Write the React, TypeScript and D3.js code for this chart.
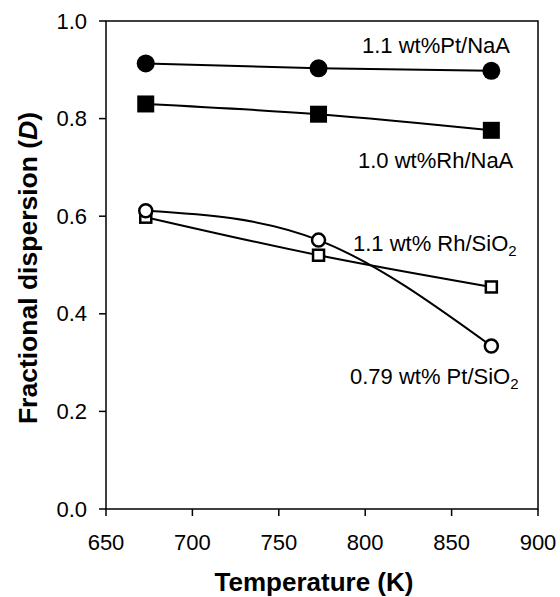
import React from "react";
import * as d3 from "d3";

const temps = [673, 773, 873];
const ptNaA = [0.913, 0.903, 0.898];
const rhNaA = [0.830, 0.809, 0.776];
const ptSiO2 = [0.611, 0.551, 0.334];
const rhSiO2 = [0.598, 0.520, 0.455];
const xTicks = [650, 700, 750, 800, 850, 900];
const yTicks = [0.0, 0.2, 0.4, 0.6, 0.8, 1.0];

const W = 560, H = 597;
const L = 106, R = 538, T = 21, B = 509;

export default function App() {
  const x = d3.scaleLinear().domain([650, 900]).range([L, R]);
  const y = d3.scaleLinear().domain([0, 1]).range([B, T]);
  const line = d3
    .line<[number, number]>()
    .x((d) => x(d[0]))
    .y((d) => y(d[1]))
    .curve(d3.curveNatural);
  const pts = (vals: number[]) => temps.map((t, i) => [t, vals[i]] as [number, number]);
  const font = "'Liberation Sans', Arial, Helvetica, sans-serif";
  const sw = 2;

  return (
    <svg width={W} height={H} style={{ position: "absolute", left: 0, top: 0, background: "#fff" }} fontFamily={font}>
      <rect x={0} y={0} width={W} height={H} fill="#fff" />
      {/* frame */}
      <rect x={L} y={T} width={R - L} height={B - T} fill="none" stroke="#000" strokeWidth={1.5} />
      {yTicks.map((t) => (
        <g key={"y" + t}>
          <line x1={L - 7} x2={L} y1={y(t)} y2={y(t)} stroke="#000" strokeWidth={1.5} />
          <text x={L - 19} y={y(t)} textAnchor="end" dominantBaseline="central" fontSize={22}>
            {t.toFixed(1)}
          </text>
        </g>
      ))}
      {xTicks.map((t) => (
        <g key={"x" + t}>
          <line x1={x(t)} x2={x(t)} y1={B} y2={B + 7} stroke="#000" strokeWidth={1.5} />
          <text x={x(t)} y={550} textAnchor="middle" fontSize={22}>
            {t}
          </text>
        </g>
      ))}
      <text x={314} y={591} textAnchor="middle" fontSize={26} fontWeight="bold">
        Temperature (K)
      </text>
      <text
        transform={`translate(37, 268) rotate(-90)`}
        textAnchor="middle"
        fontSize={26.5}
        fontWeight="bold"
      >
        Fractional dispersion (<tspan fontStyle="italic">D</tspan>)
      </text>

      {/* lines */}
      {[ptNaA, rhNaA, rhSiO2, ptSiO2].map((s, i) => (
        <path key={"l" + i} d={line(pts(s)) || ""} fill="none" stroke="#000" strokeWidth={sw} />
      ))}

      {/* markers */}
      {pts(ptNaA).map((p, i) => (
        <circle key={"a" + i} cx={x(p[0])} cy={y(p[1])} r={9} fill="#000" />
      ))}
      {pts(rhNaA).map((p, i) => (
        <rect key={"b" + i} x={x(p[0]) - 8.5} y={y(p[1]) - 8.5} width={17} height={17} fill="#000" />
      ))}
      {pts(rhSiO2).map((p, i) => (
        <rect
          key={"c" + i}
          x={x(p[0]) - 5.5}
          y={y(p[1]) - 5.5}
          width={11}
          height={11}
          fill="#fff"
          stroke="#000"
          strokeWidth={2.5}
        />
      ))}
      {pts(ptSiO2).map((p, i) => (
        <circle key={"d" + i} cx={x(p[0])} cy={y(p[1])} r={6.5} fill="#fff" stroke="#000" strokeWidth={2.5} />
      ))}

      {/* labels */}
      <text x={362} y={53} fontSize={22}>1.1 wt%Pt/NaA</text>
      <text x={358} y={168} fontSize={22}>1.0 wt%Rh/NaA</text>
      <text x={353} y={251} fontSize={22}>
        1.1 wt% Rh/SiO<tspan fontSize={15} dy={5}>2</tspan>
      </text>
      <text x={350} y={384} fontSize={22}>
        0.79 wt% Pt/SiO<tspan fontSize={15} dy={5}>2</tspan>
      </text>
    </svg>
  );
}
